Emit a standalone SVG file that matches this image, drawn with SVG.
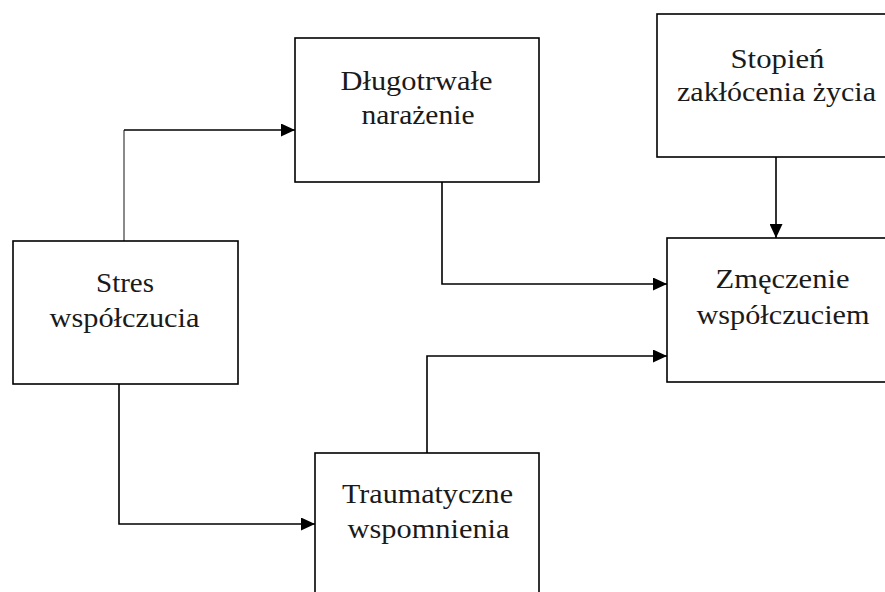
<svg xmlns="http://www.w3.org/2000/svg" width="885" height="592" viewBox="0 0 885 592">
<style>
.box{fill:#fff;stroke:#000;stroke-width:1.6}
.lbl{font-family:"Liberation Serif","Times New Roman",serif;font-size:28px;fill:#1a1a1a;text-anchor:middle}
.con{fill:none;stroke:#000;stroke-width:1.6}
</style>
<defs>
<marker id="ah" viewBox="0 0 14 13" refX="14" refY="6.5" markerWidth="14" markerHeight="13" markerUnits="userSpaceOnUse" orient="auto">
<path d="M0,0 L14,6.5 L0,13 Z" fill="#000"/>
</marker>
</defs>
<rect width="885" height="592" fill="#fff"/>
<g id="connectors">
<line x1="124" y1="130" x2="124" y2="256" stroke="#8a8a8a" stroke-width="2"/>
<path class="con" d="M124,130 H295" marker-end="url(#ah)"/>
<path class="con" d="M442,182 V284 H667" marker-end="url(#ah)"/>
<path class="con" d="M776,157 V238" marker-end="url(#ah)"/>
<path class="con" d="M427,453 V356 H667" marker-end="url(#ah)"/>
<path class="con" d="M119,384 V524 H315" marker-end="url(#ah)"/>
</g>
<g id="dlugotrwale">
<rect class="box" x="295" y="38" width="244" height="144"/>
<text class="lbl" x="416.5" y="90" textLength="152" lengthAdjust="spacingAndGlyphs">Długotrwałe</text>
<text class="lbl" x="418" y="124" textLength="113" lengthAdjust="spacingAndGlyphs">narażenie</text>
</g>
<g id="stopien">
<rect class="box" x="657" y="14" width="240" height="143"/>
<text class="lbl" x="777.5" y="68" textLength="94" lengthAdjust="spacingAndGlyphs">Stopień</text>
<text class="lbl" x="776.5" y="101" textLength="199" lengthAdjust="spacingAndGlyphs">zakłócenia życia</text>
</g>
<g id="stres">
<rect class="box" x="13" y="241" width="225" height="143"/>
<text class="lbl" x="125" y="292" textLength="58" lengthAdjust="spacingAndGlyphs">Stres</text>
<text class="lbl" x="124.5" y="327" textLength="150" lengthAdjust="spacingAndGlyphs">współczucia</text>
</g>
<g id="zmeczenie">
<rect class="box" x="667" y="238" width="232" height="144"/>
<text class="lbl" x="782.5" y="288" textLength="134" lengthAdjust="spacingAndGlyphs">Zmęczenie</text>
<text class="lbl" x="783" y="324" textLength="173" lengthAdjust="spacingAndGlyphs">współczuciem</text>
</g>
<g id="traumatyczne">
<rect class="box" x="315" y="453" width="224" height="150"/>
<text class="lbl" x="427.5" y="503" textLength="171" lengthAdjust="spacingAndGlyphs">Traumatyczne</text>
<text class="lbl" x="428.5" y="538" textLength="162" lengthAdjust="spacingAndGlyphs">wspomnienia</text>
</g>
</svg>
